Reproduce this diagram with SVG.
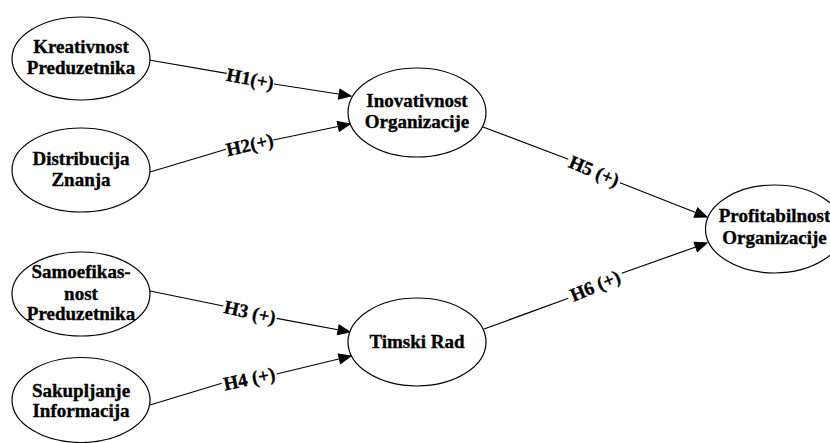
<svg xmlns="http://www.w3.org/2000/svg" width="830" height="443" viewBox="0 0 830 443">
  <style>
    .node ellipse { fill: #ffffff; stroke: #000000; stroke-width: 1.2; }
    .node text, .label { font-weight: 700; font-size: 19px; fill: #000000; stroke: #000000; stroke-width: 0.35; text-anchor: middle; }
    .edge { fill: none; stroke: #000000; stroke-width: 1.2; marker-end: url(#arrow); }
  </style>
  <defs>
    <marker id="arrow" markerUnits="userSpaceOnUse" markerWidth="14" markerHeight="12" viewBox="0 0 14 12" refX="13" refY="6" orient="auto">
      <path d="M1,1 L13,6 L1,11 Z" fill="#000000" stroke="#000000" stroke-width="1"/>
    </marker>
  </defs>
  <rect width="830" height="443" fill="#ffffff"/>

  <g font-family="Liberation Serif, Times New Roman, serif">
  <!-- connectors: each path breaks where its label sits -->
  <g id="connectors">
    <path class="edge" d="M149,60 L226.7,73.3 M274,84 L351,96"/>
    <path class="edge" d="M150,172 L226,149.3 M273.3,140 L350,124"/>
    <path class="edge" d="M150,291 L223.3,306 M276.7,318.3 L350,332"/>
    <path class="edge" d="M150,405 L221.7,383.3 M276.7,374 L351,356"/>
    <path class="edge" d="M483,127 L568.3,159.3 M620,182.7 L707,217"/>
    <path class="edge" d="M484,329 L568.3,298.3 M621.7,273.3 L707,243"/>
    <text class="label" transform="translate(250.3,78.7) rotate(11)" x="0" y="6.5">H1(+)</text>
    <text class="label" transform="translate(249.7,144.7) rotate(-12.5)" x="0" y="6.5">H2(+)</text>
    <text class="label" transform="translate(250,312.2) rotate(12.5)" x="0" y="6.5">H3 (+)</text>
    <text class="label" transform="translate(249.2,378.7) rotate(-12)" x="0" y="6.5">H4 (+)</text>
    <text class="label" transform="translate(594.2,171) rotate(23)" x="0" y="6.5">H5 (+)</text>
    <text class="label" transform="translate(595,285.8) rotate(-23)" x="0" y="6.5">H6 (+)</text>
  </g>

  <g id="kreativnost" class="node">
    <ellipse cx="81" cy="58.5" rx="69" ry="41.5"/>
    <text x="81" y="53.2">Kreativnost</text>
    <text x="81" y="73.9">Preduzetnika</text>
  </g>
  <g id="distribucija" class="node">
    <ellipse cx="81" cy="170" rx="69" ry="42"/>
    <text x="81" y="165">Distribucija</text>
    <text x="81" y="185.7">Znanja</text>
  </g>
  <g id="samoefikasnost" class="node">
    <ellipse cx="81" cy="294" rx="69" ry="42"/>
    <text x="81" y="278.3">Samoefikas-</text>
    <text x="81" y="299.5">nost</text>
    <text x="81" y="320">Preduzetnika</text>
  </g>
  <g id="sakupljanje" class="node">
    <ellipse cx="81" cy="400" rx="69" ry="42.5"/>
    <text x="81" y="396.5">Sakupljanje</text>
    <text x="81" y="417.2">Informacija</text>
  </g>
  <g id="inovativnost" class="node">
    <ellipse cx="417" cy="112.5" rx="69" ry="44.5"/>
    <text x="417" y="107">Inovativnost</text>
    <text x="417" y="127.7">Organizacije</text>
  </g>
  <g id="timski-rad" class="node">
    <ellipse cx="417" cy="342" rx="69" ry="44"/>
    <text x="417" y="348.3">Timski Rad</text>
  </g>
  <g id="profitabilnost" class="node">
    <ellipse cx="774.5" cy="229" rx="69" ry="44"/>
    <text x="774.5" y="222">Profitabilnost</text>
    <text x="774.5" y="243.5">Organizacije</text>
  </g>
  </g>
</svg>
